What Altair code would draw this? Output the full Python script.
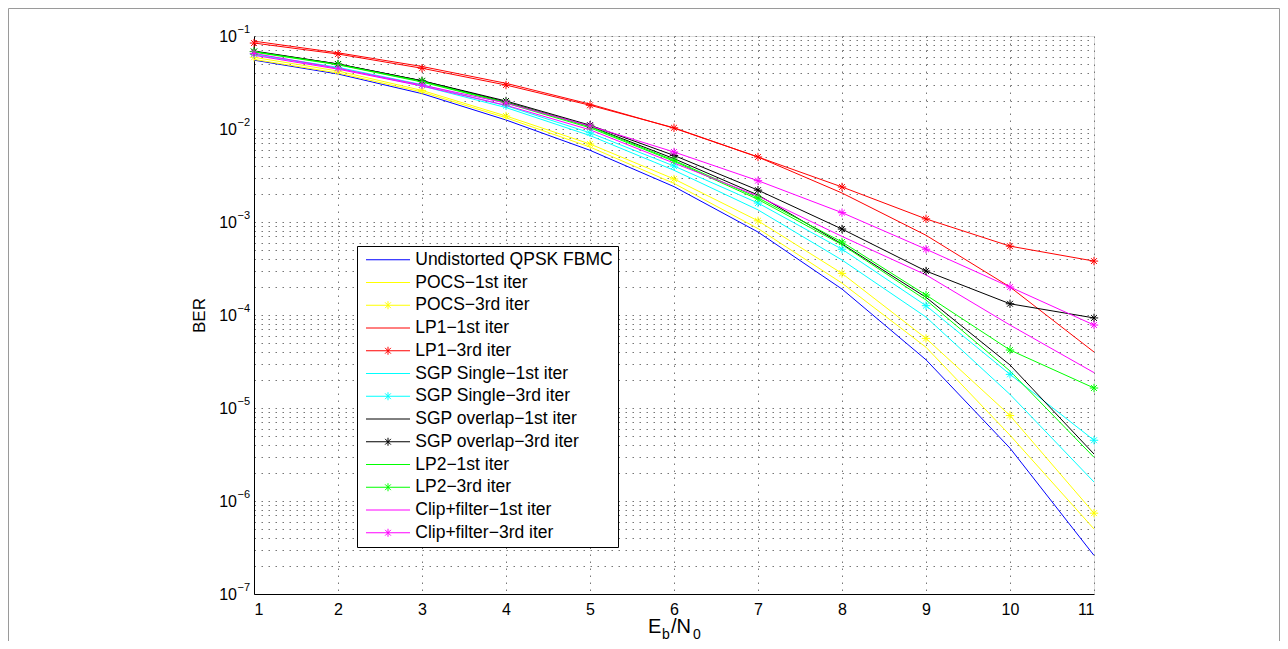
import altair as alt
import pandas as pd

# ---------------- data ----------------
ebn0 = [1, 2, 3, 4, 5, 6, 7, 8, 9, 10, 11]

series_names = [
    "Undistorted QPSK FBMC",
    "POCS\u22121st iter",
    "POCS\u22123rd iter",
    "LP1\u22121st iter",
    "LP1\u22123rd iter",
    "SGP Single\u22121st iter",
    "SGP Single\u22123rd iter",
    "SGP overlap\u22121st iter",
    "SGP overlap\u22123rd iter",
    "LP2\u22121st iter",
    "LP2\u22123rd iter",
    "Clip+filter\u22121st iter",
    "Clip+filter\u22123rd iter",
]

undistorted = [0.055, 0.039, 0.024, 0.0125, 5.9e-3, 2.4e-3, 7.8e-4, 1.9e-4, 3.3e-5, 3.7e-6, 2.6e-7]
pocs_1st = [0.056, 0.040, 0.025, 0.0132, 6.4e-3, 2.6e-3, 8.5e-4, 2.2e-4, 4.5e-5, 5.1e-6, 5.0e-7]
pocs_3rd = [0.059, 0.042, 0.026, 0.0138, 6.9e-3, 2.9e-3, 1.03e-3, 2.8e-4, 5.6e-5, 8.3e-6, 7.4e-7]
lp1_1st = [0.088, 0.066, 0.047, 0.031, 0.0185, 0.0102, 5.0e-3, 2.05e-3, 7.2e-4, 2.0e-4, 4.0e-5]
lp1_3rd = [0.084, 0.064, 0.045, 0.0297, 0.018, 0.0103, 5.0e-3, 2.38e-3, 1.08e-3, 5.5e-4, 3.8e-4]
sgp_single_1st = [0.063, 0.045, 0.029, 0.017, 8.5e-3, 3.6e-3, 1.35e-3, 3.9e-4, 9.5e-5, 1.4e-5, 1.6e-6]
sgp_single_3rd = [0.064, 0.046, 0.030, 0.0178, 9.1e-3, 4.0e-3, 1.6e-3, 5.1e-4, 1.26e-4, 2.3e-5, 4.5e-6]
sgp_overlap_1st = [0.069, 0.050, 0.033, 0.0195, 0.0107, 4.8e-3, 1.95e-3, 5.8e-4, 1.55e-4, 2.9e-5, 3.2e-6]
sgp_overlap_3rd = [0.068, 0.050, 0.033, 0.0200, 0.011, 5.2e-3, 2.2e-3, 8.4e-4, 2.97e-4, 1.32e-4, 9.3e-5]
lp2_1st = [0.067, 0.049, 0.032, 0.019, 0.0103, 4.5e-3, 1.75e-3, 5.7e-4, 1.45e-4, 2.5e-5, 2.95e-6]
lp2_3rd = [0.068, 0.0495, 0.0325, 0.0193, 0.0106, 4.6e-3, 1.82e-3, 6.1e-4, 1.64e-4, 4.2e-5, 1.64e-5]
clip_1st = [0.062, 0.044, 0.029, 0.018, 9.8e-3, 4.3e-3, 1.9e-3, 7.0e-4, 2.7e-4, 7.8e-5, 2.4e-5]
clip_3rd = [0.065, 0.045, 0.0297, 0.019, 0.0108, 5.66e-3, 2.78e-3, 1.26e-3, 5.1e-4, 2.0e-4, 7.8e-5]

series_values = [
    undistorted, pocs_1st, pocs_3rd, lp1_1st, lp1_3rd,
    sgp_single_1st, sgp_single_3rd, sgp_overlap_1st, sgp_overlap_3rd,
    lp2_1st, lp2_3rd, clip_1st, clip_3rd,
]

series_colors = [
    "#0000ff", "#ffff00", "#ffff00", "#ff0000", "#ff0000",
    "#00ffff", "#00ffff", "#000000", "#000000",
    "#00ff00", "#00ff00", "#ff00ff", "#ff00ff",
]
has_marker = [False, False, True, False, True, False, True, False, True, False, True, False, True]

# y tick labels (decades) : base "10" and exponent
y_decades = [1e-1, 1e-2, 1e-3, 1e-4, 1e-5, 1e-6, 1e-7]
y_exponents = ["\u22121", "\u22122", "\u22123", "\u22124", "\u22125", "\u22126", "\u22127"]

# ---------------- styling helpers ----------------
FONT = "Liberation Sans"
STAR = "M-1,0L1,0M0,-1L0,1M-0.7,-0.7L0.7,0.7M-0.7,0.7L0.7,-0.7"
# legend symbols: unit = 8 px (symbolSize 256); line 44 px long, asterisk radius 4 px
LEG_LINE = "M-2.75,0L2.75,0"
LEG_STAR = ("M-2.75,0L2.75,0M0,-0.5L0,0.5M-0.36,-0.36L0.36,0.36M-0.36,0.36L0.36,-0.36")
legend_shapes = [LEG_STAR if m else LEG_LINE for m in has_marker]

rows = []
for name, vals, mk in zip(series_names, series_values, has_marker):
    for xv, yv in zip(ebn0, vals):
        rows.append({"series": name, "ebn0": xv, "ber": yv, "marker": mk})
df = pd.DataFrame(rows)
df_mark = df[df["marker"]]
df_ylab = pd.DataFrame({"ber": y_decades, "base": ["10"] * len(y_decades), "exp": y_exponents})

W, H = 840, 558

y_ticks = []
for e in range(-7, -1):
    for k in range(1, 10):
        y_ticks.append(float(f"{k}e{e}"))
y_ticks.append(0.1)

x_scale = alt.Scale(domain=[1, 11], nice=False, zero=False)
y_scale = alt.Scale(type="log", domain=[1e-7, 0.1], nice=False)
color_scale = alt.Scale(domain=series_names, range=series_colors)
shape_scale = alt.Scale(domain=series_names, range=legend_shapes)

GRID = dict(gridColor="#777777", gridDash=[1.5, 5.5], gridWidth=1)
x_enc = alt.X("ebn0:Q", scale=x_scale, axis=alt.Axis(
    values=ebn0, format="d", title=None, grid=True, ticks=False, tickSize=0,
    labelPadding=7, labelFontSize=16, labelFont=FONT, labelColor="black",
    domainColor="black", **GRID))
y_enc = alt.Y("ber:Q", scale=y_scale, axis=alt.Axis(
    values=y_ticks, labels=False,
    title="BER", titleFont=FONT, titleFontSize=17, titleFontWeight="normal",
    titleColor="black", titleX=-55, titleY=H / 2, titleAngle=270,
    titleAlign="center", titleBaseline="middle",
    grid=True, ticks=False, tickSize=0, domainColor="black", **GRID))

leg = alt.Legend(
    title=None, orient="none", legendX=103, legendY=210,
    labelFont=FONT, labelFontSize=17.5, labelColor="black", labelLimit=500,
    symbolSize=256, symbolStrokeWidth=1, symbolOpacity=1,
    symbolOffset=17.25, labelOffset=18.5, rowPadding=3.75,
    padding=5, fillColor="white", strokeColor="black",
)

lines = alt.Chart(df).mark_line(strokeWidth=1, clip=True).encode(
    x=x_enc, y=y_enc,
    color=alt.Color("series:N", scale=color_scale, legend=leg),
)

stars = alt.Chart(df_mark).mark_point(shape=STAR, size=70, filled=False, strokeWidth=1, opacity=1).encode(
    x="ebn0:Q", y="ber:Q",
    color=alt.Color("series:N", scale=color_scale, legend=leg),
)

legend_layer = alt.Chart(df).mark_point(filled=False, opacity=0, size=1).encode(
    x="ebn0:Q", y="ber:Q",
    color=alt.Color("series:N", scale=color_scale, legend=leg),
    shape=alt.Shape("series:N", scale=shape_scale, legend=leg),
)

ylab_base = alt.Chart(df_ylab).mark_text(
    align="right", baseline="middle", font=FONT, fontSize=16, color="black", dy=1
).encode(y="ber:Q", x=alt.value(-17), text="base:N")
ylab_exp = alt.Chart(df_ylab).mark_text(
    align="left", baseline="alphabetic", font=FONT, fontSize=11, color="black", dy=-3
).encode(y="ber:Q", x=alt.value(-16.5), text="exp:N")

def piece(txt, px, py, fs):
    return alt.Chart(pd.DataFrame({"t": [txt]})).mark_text(
        align="left", baseline="alphabetic", font=FONT, fontSize=fs, color="black"
    ).encode(text="t:N", x=alt.value(px), y=alt.value(py))

xt = [
    piece("E", 394, 597, 20),
    piece("b", 408, 603, 14),
    piece("/N", 417, 597, 20),
    piece("0", 439, 603, 14),
]

frame = alt.Chart(pd.DataFrame({"a": [0]})).mark_rect(
    fillOpacity=0, stroke="#9a9a9a", strokeWidth=1
).encode(x=alt.value(-245.5), x2=alt.value(1025.5), y=alt.value(-27.5), y2=alt.value(700))

chart = alt.layer(frame, lines, stars, legend_layer, ylab_base, ylab_exp, *xt).properties(
    width=W, height=H,
    autosize=alt.AutoSizeParams(type="none"),
    padding={"left": 246, "top": 28, "right": 186, "bottom": 47},
).configure_view(stroke="black", strokeWidth=1).configure(background="white")

chart.save("out.html", embed_options={"renderer": "svg", "actions": False})
